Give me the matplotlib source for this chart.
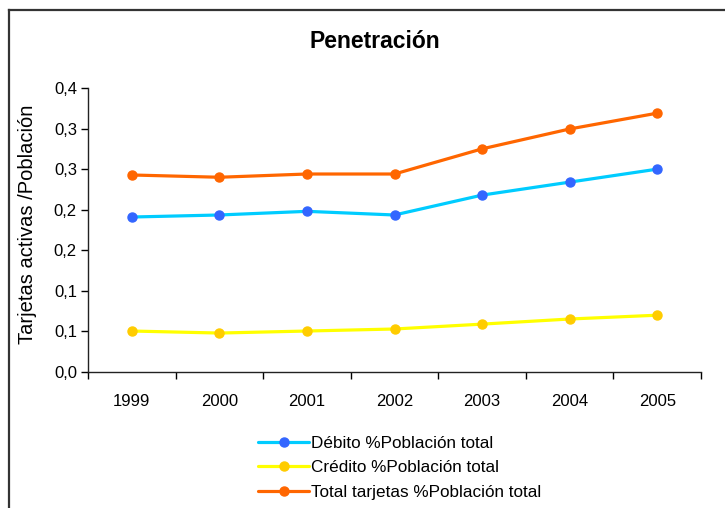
import matplotlib
matplotlib.use("Agg")
import matplotlib.pyplot as plt
from matplotlib.lines import Line2D

plt.rcParams['font.family'] = ['Liberation Sans', 'DejaVu Sans']

years = ['1999', '2000', '2001', '2002', '2003', '2004', '2005']
debito = [0.191, 0.1935, 0.198, 0.1935, 0.218, 0.234, 0.250]
credito = [0.0505, 0.048, 0.0505, 0.053, 0.059, 0.0653, 0.070]
total = [0.2428, 0.240, 0.244, 0.244, 0.275, 0.2995, 0.319]
yticks = [0.0, 0.05, 0.10, 0.15, 0.20, 0.25, 0.30, 0.35]
ytick_labels = ['0,0', '0,1', '0,1', '0,2', '0,2', '0,3', '0,3', '0,4']
labels = ['Débito %Población total', 'Crédito %Población total',
          'Total tarjetas %Población total']

W, H = 725, 508
fig = plt.figure(figsize=(W / 100, H / 100), dpi=100)
ax = fig.add_axes([88 / W, 1 - 372 / H, (701 - 88) / W, (372 - 88) / H])

x = list(range(len(years)))
series = [
    (debito, '#00CCFF', '#3366FF'),
    (credito, '#FFFF00', '#FFCC00'),
    (total, '#FF6600', '#FF6600'),
]
handles = []
for (vals, lc, mc), lab in zip(series, labels):
    ln, = ax.plot(x, vals, color=lc, lw=2.3, marker='o', ms=6.5,
                  markerfacecolor=mc, markeredgecolor=mc, label=lab,
                  solid_capstyle='round')
    handles.append(ln)

ax.set_xlim(-0.5, len(years) - 0.5)
ax.set_ylim(0, 0.35)
ax.set_xticks(x)
ax.set_xticklabels(years, fontsize=12)
ax.set_xticks([i - 0.5 for i in range(len(years) + 1)], minor=True)
ax.tick_params(axis='x', which='major', length=0, pad=16)
ax.tick_params(axis='x', which='minor', length=5, width=1, direction='out')
ax.set_yticks(yticks)
ax.set_yticklabels(ytick_labels, fontsize=12)
ax.tick_params(axis='y', length=5, width=1, direction='out', pad=3)
for s in ['top', 'right']:
    ax.spines[s].set_visible(False)
for s in ['left', 'bottom']:
    ax.spines[s].set_linewidth(1)
    ax.spines[s].set_color('#222222')

fig.text(28 / W, 1 - 224 / H, 'Tarjetas activas /Población', rotation=90,
         ha='center', va='center', fontsize=14.5)
fig.text(375 / W, 1 - 41 / H, 'Penetración', ha='center', va='center',
         fontsize=16.5, fontweight='bold')

fig.legend(handles=handles, labels=labels, loc='upper left',
           bbox_to_anchor=(258 / W, 1 - 436 / H), bbox_transform=fig.transFigure,
           frameon=False, fontsize=12.3, handlelength=3.0, handletextpad=0.1,
           labelspacing=0.55, borderpad=0, borderaxespad=0)

# outer frame
fig.add_artist(Line2D([9 / W, 9 / W], [0, 1 - 10 / H], transform=fig.transFigure,
                      color='#333333', lw=1.6))
fig.add_artist(Line2D([9 / W, 1], [1 - 10 / H, 1 - 10 / H], transform=fig.transFigure,
                      color='#333333', lw=1.6))

fig.savefig('out.png', dpi=100)
